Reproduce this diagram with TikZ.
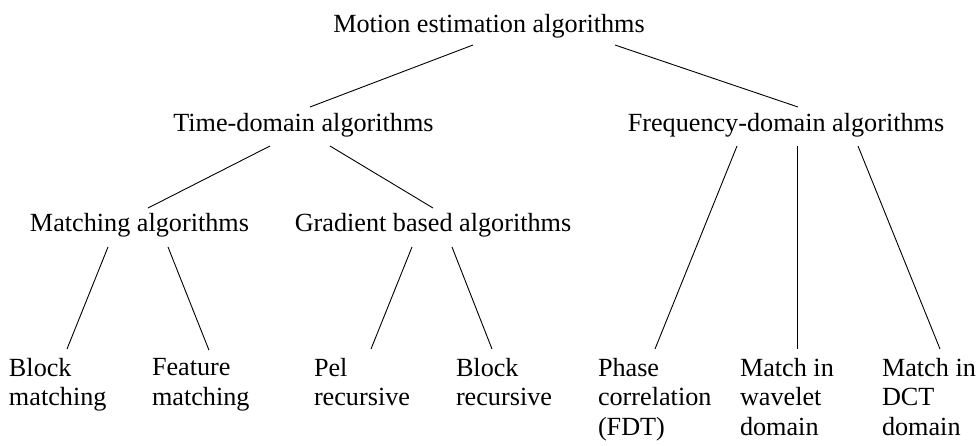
\documentclass[tikz,border=0pt]{standalone}
\usepackage{fontspec}
\setmainfont{Liberation Serif}
\begin{document}
\begin{tikzpicture}[x=1pt,y=-1pt,
  lbl/.style={inner sep=0pt,outer sep=0pt,anchor=base,font=\fontsize{26.2}{29.5}\selectfont},
  leaf/.style={inner sep=0pt,outer sep=0pt,anchor=north west,align=left,font=\fontsize{26.2}{29.5}\selectfont},
  conn/.style={draw=black,line width=0.9pt}]
\useasboundingbox (0,0) rectangle (980,445);
\node[lbl] (me) at (489,32) {Motion estimation algorithms};
\node[lbl] (td) at (303.5,131) {Time-domain algorithms};
\node[lbl] (fd) at (786,131) {Frequency-domain algorithms};
\node[lbl] (ma) at (139.5,231) {Matching algorithms};
\node[lbl] (ga) at (433,231) {Gradient based algorithms};
\node[leaf] (bm) at (9,358) {Block\\matching};
\node[leaf] (fm) at (152,358.6) {Feature\\matching};
\node[leaf] (pr) at (314,358) {Pel\\recursive};
\node[leaf] (br) at (456,358) {Block\\recursive};
\node[leaf] (pc) at (598,358) {Phase\\correlation\\(FDT)};
\node[leaf] (mw) at (740,358) {Match in\\wavelet\\domain};
\node[leaf] (md) at (882,358) {Match in\\DCT\\domain};
\draw[conn] ([shift={(-16,13)}]me.base) -- ([shift={(6.5,-24)}]td.base);
\draw[conn] ([shift={(126,13)}]me.base) -- ([shift={(12,-24)}]fd.base);
\draw[conn] ([shift={(-33.5,15)}]td.base) -- ([shift={(8.5,-23)}]ma.base);
\draw[conn] ([shift={(26.5,15)}]td.base) -- ([shift={(0,-23)}]ga.base);
\draw[conn] ([shift={(-49,15)}]fd.base) -- ([shift={(57,-9)}]pc.north west);
\draw[conn] ([shift={(11.5,15)}]fd.base) -- ([shift={(57.5,-9)}]mw.north west);
\draw[conn] ([shift={(72,15)}]fd.base) -- ([shift={(58,-9)}]md.north west);
\draw[conn] ([shift={(-31.5,16)}]ma.base) -- ([shift={(58,-9)}]bm.north west);
\draw[conn] ([shift={(28.5,16)}]ma.base) -- ([shift={(57,-8.4)}]fm.north west);
\draw[conn] ([shift={(-21,16)}]ga.base) -- ([shift={(57,-9)}]pr.north west);
\draw[conn] ([shift={(19,16)}]ga.base) -- ([shift={(36,-9)}]br.north west);
\end{tikzpicture}
\end{document}
